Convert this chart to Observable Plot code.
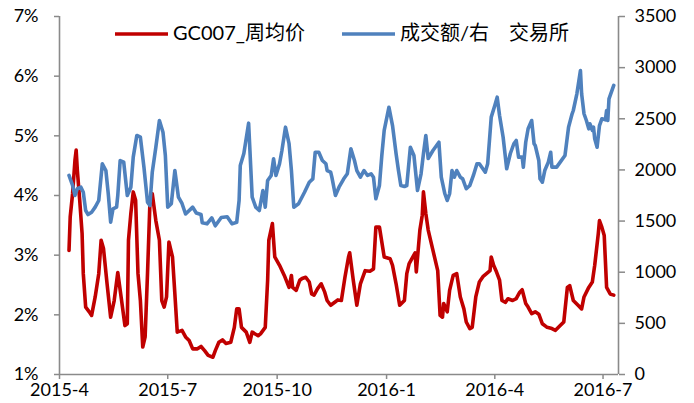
<!DOCTYPE html>
<html>
<head>
<meta charset="utf-8">
<script src="https://cdn.jsdelivr.net/npm/d3@7"></script>
<script src="https://cdn.jsdelivr.net/npm/@observablehq/plot@0.6"></script>
<style>
  html, body { margin: 0; padding: 0; background: #fff; }
  #wrap { position: relative; width: 694px; height: 403px; }
  #legend { position: absolute; left: 0; top: 0; pointer-events: none; }
</style>
</head>
<body>
<div id="wrap"></div>
<script>
// ---------- data ----------
const redName = "GC007_周均价";
const blueName = "成交额/右\u3000交易所";

const redDates = [
"2015-04-09","2015-04-10","2015-04-12","2015-04-14","2015-04-15","2015-04-16","2015-04-18","2015-04-20","2015-04-21","2015-04-23",
"2015-04-26","2015-04-28","2015-05-01","2015-05-04","2015-05-06","2015-05-08","2015-05-11","2015-05-14","2015-05-17","2015-05-20",
"2015-05-23","2015-05-26","2015-05-28","2015-05-29","2015-05-31","2015-06-02","2015-06-04","2015-06-06","2015-06-08","2015-06-10",
"2015-06-12","2015-06-14","2015-06-16","2015-06-18","2015-06-21","2015-06-24","2015-06-26","2015-06-28","2015-06-30","2015-07-02",
"2015-07-05","2015-07-07","2015-07-09","2015-07-13","2015-07-16","2015-07-19","2015-07-22","2015-07-26","2015-07-29","2015-08-01",
"2015-08-04","2015-08-08","2015-08-10","2015-08-13","2015-08-16","2015-08-19","2015-08-23","2015-08-26","2015-08-28","2015-08-30",
"2015-09-01","2015-09-05","2015-09-08","2015-09-10","2015-09-15","2015-09-17","2015-09-21","2015-09-23","2015-09-24","2015-09-27",
"2015-09-29","2015-10-03","2015-10-07","2015-10-11","2015-10-13","2015-10-14","2015-10-17","2015-10-20","2015-10-22","2015-10-25",
"2015-10-28","2015-10-30","2015-11-01","2015-11-04","2015-11-07","2015-11-10","2015-11-12","2015-11-15","2015-11-19","2015-11-21",
"2015-11-24","2015-11-27","2015-11-30","2015-12-01","2015-12-04","2015-12-07","2015-12-10","2015-12-14","2015-12-18","2015-12-21",
"2015-12-23","2015-12-26","2015-12-30","2016-01-04","2016-01-06","2016-01-09","2016-01-12","2016-01-16","2016-01-18","2016-01-20",
"2016-01-25","2016-01-26","2016-01-29","2016-01-31","2016-02-01","2016-02-03","2016-02-05","2016-02-09","2016-02-13","2016-02-15",
"2016-02-17","2016-02-18","2016-02-21","2016-02-23","2016-02-26","2016-02-29","2016-03-03","2016-03-06","2016-03-08","2016-03-11",
"2016-03-13","2016-03-16","2016-03-19","2016-03-22","2016-03-25","2016-03-28","2016-03-29","2016-03-31","2016-04-02","2016-04-05",
"2016-04-07","2016-04-10","2016-04-12","2016-04-16","2016-04-19","2016-04-22","2016-04-24","2016-04-27","2016-04-29","2016-05-02",
"2016-05-05","2016-05-08","2016-05-11","2016-05-15","2016-05-19","2016-05-22","2016-05-26","2016-05-29","2016-06-01","2016-06-03",
"2016-06-06","2016-06-10","2016-06-13","2016-06-15","2016-06-19","2016-06-22","2016-06-24","2016-06-27","2016-06-28","2016-06-30",
"2016-07-02","2016-07-04","2016-07-07","2016-07-10"
];
const redValues = [
3.08,3.64,4.03,4.59,4.76,4.42,3.92,3.36,2.69,2.13,
2.05,1.99,2.30,2.69,3.25,3.11,2.52,1.96,2.24,2.71,
2.27,1.82,1.85,3.25,3.70,4.06,3.92,2.69,2.24,1.46,
1.63,2.69,3.86,4.03,3.58,3.25,2.24,2.13,2.30,3.22,
2.97,2.35,1.71,1.74,1.63,1.57,1.43,1.43,1.47,1.40,
1.32,1.29,1.40,1.54,1.58,1.52,1.54,1.79,2.10,2.10,
1.79,1.71,1.54,1.71,1.65,1.68,1.79,2.58,3.25,3.53,
2.97,2.83,2.66,2.46,2.66,2.46,2.41,2.58,2.61,2.63,
2.55,2.35,2.33,2.44,2.52,2.38,2.24,2.16,2.22,2.25,
2.24,2.63,2.97,3.04,2.58,2.16,2.52,2.74,2.73,2.77,
3.47,3.47,2.97,2.94,2.83,2.52,2.16,2.24,2.69,2.86,
3.04,2.72,3.42,3.67,4.06,3.70,3.42,3.08,2.74,1.99,
1.96,2.19,2.05,2.41,2.66,2.69,2.30,2.10,1.88,1.77,
1.79,2.30,2.55,2.64,2.69,2.74,2.97,2.83,2.74,2.58,
2.24,2.21,2.27,2.24,2.27,2.38,2.42,2.19,2.13,2.02,
2.05,2.01,1.85,1.79,1.77,1.74,1.82,1.88,2.46,2.49,
2.24,2.16,2.10,2.30,2.46,2.55,2.83,3.36,3.58,3.47,
3.33,2.46,2.35,2.33
];

const blueDates = [
"2015-04-09","2015-04-12","2015-04-14","2015-04-16","2015-04-19","2015-04-21","2015-04-23","2015-04-25","2015-04-28","2015-05-01",
"2015-05-04","2015-05-07","2015-05-10","2015-05-12","2015-05-14","2015-05-16","2015-05-19","2015-05-20","2015-05-22","2015-05-25",
"2015-05-28","2015-05-31","2015-06-02","2015-06-05","2015-06-08","2015-06-11","2015-06-14","2015-06-16","2015-06-18","2015-06-21",
"2015-06-24","2015-06-27","2015-06-29","2015-07-01","2015-07-04","2015-07-07","2015-07-10","2015-07-13","2015-07-16","2015-07-22",
"2015-07-25","2015-07-29","2015-07-30","2015-08-03","2015-08-07","2015-08-10","2015-08-15","2015-08-20","2015-08-24","2015-08-28",
"2015-08-30","2015-08-31","2015-09-03","2015-09-07","2015-09-10","2015-09-13","2015-09-16","2015-09-19","2015-09-21","2015-09-23",
"2015-09-26","2015-09-28","2015-09-30","2015-10-03","2015-10-05","2015-10-08","2015-10-11","2015-10-13","2015-10-15","2015-10-19",
"2015-10-24","2015-10-28","2015-10-31","2015-11-02","2015-11-05","2015-11-08","2015-11-11","2015-11-12","2015-11-15","2015-11-16",
"2015-11-19","2015-11-22","2015-11-26","2015-11-29","2015-12-02","2015-12-05","2015-12-07","2015-12-10","2015-12-13","2015-12-16",
"2015-12-19","2015-12-21","2015-12-23","2015-12-26","2015-12-28","2015-12-30","2016-01-03","2016-01-06","2016-01-09","2016-01-11",
"2016-01-13","2016-01-16","2016-01-18","2016-01-21","2016-01-24","2016-01-27","2016-01-30","2016-02-01","2016-02-03","2016-02-05",
"2016-02-09","2016-02-14","2016-02-16","2016-02-19","2016-02-21","2016-02-23","2016-02-25","2016-02-27","2016-02-29","2016-03-03",
"2016-03-05","2016-03-08","2016-03-11","2016-03-14","2016-03-17","2016-03-19","2016-03-24","2016-03-26","2016-03-29","2016-04-01",
"2016-04-03","2016-04-05","2016-04-08","2016-04-11","2016-04-14","2016-04-17","2016-04-19","2016-04-21","2016-04-24","2016-04-25",
"2016-04-27","2016-04-29","2016-05-02","2016-05-04","2016-05-05","2016-05-08","2016-05-09","2016-05-11","2016-05-13","2016-05-16",
"2016-05-18","2016-05-19","2016-05-23","2016-05-26","2016-05-30","2016-06-02","2016-06-05","2016-06-06","2016-06-09","2016-06-12",
"2016-06-13","2016-06-15","2016-06-17","2016-06-19","2016-06-20","2016-06-22","2016-06-23","2016-06-24","2016-06-26","2016-06-28",
"2016-06-30","2016-07-03","2016-07-04","2016-07-05","2016-07-06","2016-07-10"
];
const blueValues = [
1946,1848,1750,1816,1831,1782,1603,1564,1587,1636,
1701,2060,1994,1767,1489,1620,1636,1750,2092,2076,
1750,1831,2125,2337,2320,2027,1685,1652,1978,2222,
2483,2369,2141,1636,1669,1994,1734,1672,1569,1636,
1579,1564,1483,1473,1532,1454,1535,1542,1473,1489,
1701,2043,2161,2457,1734,1636,1603,1799,1636,1897,
1946,2109,1946,2060,2190,2418,2256,1994,1636,1669,
1782,1880,1913,2173,2173,2092,2060,1994,1978,1929,
1750,1831,1913,1962,2207,2092,1994,1929,1994,1946,
1962,1929,1718,1848,2141,2386,2613,2434,2158,1994,
1848,1838,1848,2222,2141,1799,1962,2158,2337,2112,
2190,2271,1929,1767,1701,1767,1994,1929,1994,1929,
1913,1816,1848,1946,2060,2060,1978,2060,2516,2630,
2711,2532,2320,2011,2158,2256,2288,2125,2125,2027,
2271,2402,2483,2256,2239,2092,1913,1880,1994,2076,
2173,2027,2027,2076,2141,2418,2549,2581,2744,2972,
2744,2549,2483,2402,2451,2386,2418,2304,2222,2434,
2500,2490,2581,2483,2695,2826
];

const leftTicks = [1, 2, 3, 4, 5, 6, 7];            // percent
const rightTicks = [0, 500, 1000, 1500, 2000, 2500, 3000, 3500];
const xTickDates = ["2015-04-01","2015-07-01","2015-10-01","2016-01-01","2016-04-01","2016-07-01"];
const xTickLabels = ["2015-4","2015-7","2015-10","2016-1","2016-4","2016-7"];

// ---------- helpers ----------
const parse = d3.utcParse("%Y-%m-%d");
const leftMin = 1, leftMax = 7, rightMax = 3500;
const toLeft = v => leftMin + v / rightMax * (leftMax - leftMin);   // right axis value -> left scale
const fromLeft = p => Math.round((p - leftMin) / (leftMax - leftMin) * rightMax);

const red = redDates.map((d, i) => ({date: parse(d), value: redValues[i]}));
const blue = blueDates.map((d, i) => ({date: parse(d), value: blueValues[i]}));
const xTicks = xTickDates.map(parse);
const xLabelMap = new Map(xTicks.map((d, i) => [+d, xTickLabels[i]]));

const x0 = parse("2015-04-01");
const x1 = parse("2016-07-14");
const gray = "#8a8a8a";
const redColor = "#C00000";
const blueColor = "#4F81BD";
const font = "Lato, 'Noto Sans CJK SC', sans-serif";

const chart = Plot.plot({
  width: 694,
  height: 403,
  marginLeft: 59,
  marginRight: 76,
  marginTop: 16,
  marginBottom: 29,
  style: {fontFamily: font, fontSize: "18px", background: "#fff", color: "#000", overflow: "visible"},
  x: {type: "utc", domain: [x0, x1]},
  y: {domain: [leftMin, leftMax]},
  marks: [
    Plot.axisY(leftTicks, {anchor: "left", tickSize: 5, tickPadding: 16, tickFormat: d => d + "%",
      stroke: gray, strokeWidth: 1.5, fill: "#000", fontSize: 18, label: null}),
    Plot.axisY(rightTicks.map(toLeft), {anchor: "right", tickSize: 6, tickPadding: 10, tickFormat: d => String(fromLeft(d)),
      stroke: gray, strokeWidth: 1.5, fill: "#000", fontSize: 18, label: null}),
    Plot.axisX(xTicks, {tickSize: 5, tickPadding: 4, tickFormat: d => xLabelMap.get(+d),
      stroke: gray, strokeWidth: 1.5, fill: "#000", fontSize: 18, label: null}),
    Plot.ruleX([x0], {stroke: gray, strokeWidth: 1.6}),
    Plot.ruleX([x1], {stroke: gray, strokeWidth: 1.6}),
    Plot.ruleY([leftMin], {stroke: gray, strokeWidth: 1.6}),
    Plot.line(red, {x: "date", y: "value", stroke: redColor, strokeWidth: 3.6, strokeLinejoin: "round", strokeLinecap: "round"}),
    Plot.line(blue, {x: "date", y: d => toLeft(d.value), stroke: blueColor, strokeWidth: 3.6, strokeLinejoin: "round", strokeLinecap: "round"})
  ]
});

const wrap = document.getElementById("wrap");
wrap.appendChild(chart);

// ---------- legend (overlay) ----------
const legendItems = [
  {name: redName, color: redColor, x1: 115, x2: 168, tx: 173},
  {name: blueName, color: blueColor, x1: 342, x2: 395, tx: 400}
];
const lg = d3.create("svg")
  .attr("id", "legend")
  .attr("width", 694)
  .attr("height", 60)
  .style("font-family", font);
const items = lg.selectAll("g").data(legendItems).join("g");
items.append("line")
  .attr("x1", d => d.x1).attr("x2", d => d.x2)
  .attr("y1", 34).attr("y2", 34)
  .attr("stroke", d => d.color).attr("stroke-width", 3.6);
items.append("text")
  .attr("x", d => d.tx).attr("y", 40)
  .attr("font-size", 20)
  .attr("fill", "#000")
  .text(d => d.name);
wrap.appendChild(lg.node());
</script>
</body>
</html>
